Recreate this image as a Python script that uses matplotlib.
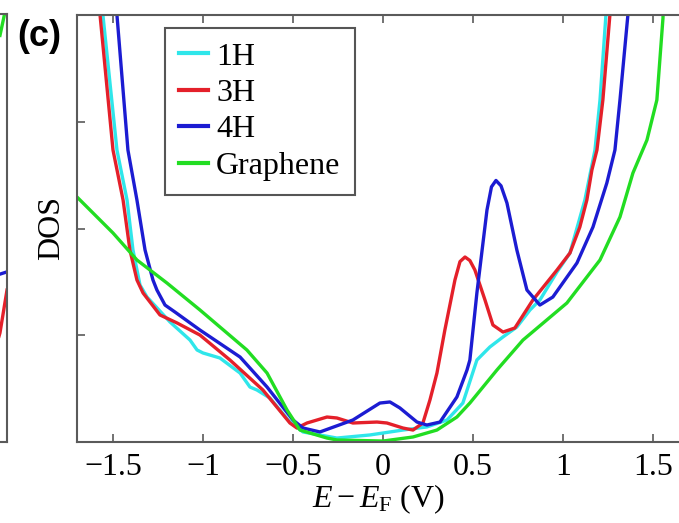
import matplotlib
matplotlib.use("Agg")
import matplotlib.pyplot as plt

plt.rcParams['font.family'] = ['Liberation Serif', 'DejaVu Serif']
plt.rcParams['mathtext.fontset'] = 'custom'
plt.rcParams['mathtext.rm'] = 'Liberation Serif'
plt.rcParams['mathtext.it'] = 'Liberation Serif:italic'

# ---------------- data (E - E_F in V, DOS arbitrary units) ----------------
x_1h = [-1.567, -1.556, -1.478, -1.422, -1.389, -1.350, -1.311, -1.183, -1.072, -1.033,
        -1.000, -0.906, -0.794, -0.739, -0.700, -0.628, -0.517, -0.444, -0.256, -0.072,
        0.111, 0.244, 0.356, 0.444, 0.522, 0.594, 0.667, 0.744, 0.817, 0.872,
        0.967, 1.039, 1.122, 1.178, 1.206, 1.239, 1.250]
y_1h = [4.23, 4.00, 2.735, 2.267, 1.799, 1.471, 1.358, 1.124, 0.955, 0.862,
        0.834, 0.787, 0.646, 0.515, 0.487, 0.412, 0.187, 0.094, 0.037, 0.066,
        0.112, 0.141, 0.206, 0.365, 0.768, 0.890, 0.984, 1.077, 1.237, 1.330,
        1.593, 1.770, 2.267, 2.735, 3.204, 4.00, 4.23]

x_3h = [-1.583, -1.572, -1.500, -1.444, -1.406, -1.367, -1.333, -1.239, -1.144, -1.017,
        -0.850, -0.667, -0.517, -0.478, -0.422, -0.311, -0.256, -0.167, -0.033, 0.022,
        0.111, 0.167, 0.222, 0.261, 0.300, 0.344, 0.400, 0.428, 0.456, 0.483,
        0.511, 0.567, 0.611, 0.667, 0.733, 0.833, 0.967, 1.039, 1.094, 1.133,
        1.161, 1.189, 1.222, 1.261, 1.272]
y_3h = [4.23, 4.00, 2.735, 2.267, 1.799, 1.518, 1.396, 1.190, 1.115, 1.002,
        0.768, 0.487, 0.178, 0.131, 0.178, 0.234, 0.225, 0.178, 0.187, 0.178,
        0.131, 0.112, 0.178, 0.393, 0.646, 1.049, 1.518, 1.690, 1.733, 1.700,
        1.611, 1.330, 1.096, 1.030, 1.068, 1.330, 1.611, 1.770, 2.014, 2.267,
        2.548, 2.735, 3.204, 4.00, 4.23]

x_4h = [-1.489, -1.478, -1.417, -1.367, -1.322, -1.278, -1.256, -1.211, -1.156, -1.017,
        -0.794, -0.644, -0.500, -0.444, -0.350, -0.167, -0.017, 0.039, 0.094, 0.189,
        0.244, 0.317, 0.411, 0.467, 0.483, 0.522, 0.578, 0.603, 0.628, 0.656,
        0.689, 0.744, 0.800, 0.872, 0.944, 1.078, 1.167, 1.244, 1.289, 1.317,
        1.361, 1.372]
y_4h = [4.23, 4.00, 2.735, 2.267, 1.799, 1.518, 1.424, 1.283, 1.218, 1.049,
        0.796, 0.515, 0.206, 0.131, 0.094, 0.206, 0.365, 0.375, 0.319, 0.187,
        0.159, 0.187, 0.422, 0.674, 0.768, 1.396, 2.173, 2.390, 2.450, 2.400,
        2.239, 1.799, 1.424, 1.283, 1.358, 1.677, 2.014, 2.426, 2.735, 3.204,
        4.00, 4.23]

x_gr = [-1.700, -1.500, -1.367, -1.200, -1.017, -0.756, -0.644, -0.533, -0.461, -0.311,
        -0.256, 0.000, 0.167, 0.300, 0.411, 0.483, 0.633, 0.778, 1.022, 1.206,
        1.317, 1.389, 1.467, 1.522, 1.556, 1.561]
y_gr = [2.295, 1.958, 1.705, 1.489, 1.237, 0.862, 0.646, 0.300, 0.112, 0.037,
        0.019, 0.009, 0.047, 0.112, 0.234, 0.365, 0.674, 0.955, 1.302, 1.705,
        2.108, 2.520, 2.829, 3.204, 3.972, 4.23]

labels = ['1H', '3H', '4H', 'Graphene']
colors = ['#2fe6ea', '#e4202a', '#1c1cd2', '#22dd22']
xticks = [-1.5, -1, -0.5, 0, 0.5, 1, 1.5]
xticklabels = ['\u22121.5', '\u22121', '\u22120.5', '0', '0.5', '1', '1.5']
yticks = [1, 2, 3]

# neighbouring panel fragment (cut off at the left edge)
frag_x_gr = [0.883, 0.967, 0.99]
frag_y_gr = [3.80, 4.02, 4.3]
frag_x_4h = [0.833, 1.0]
frag_y_4h = [1.56, 1.59]
frag_x_3h = [0.80, 0.883, 1.0]
frag_y_3h = [0.86, 1.02, 1.42]

W, H = 679, 523
fig = plt.figure(figsize=(W / 100, H / 100), dpi=100)

spine_col = '#5a5a5a'
lw = 2.4
fs = 23

# main axes
ax = fig.add_axes([77 / W, (H - 442) / H, 1 - 77 / W, 427 / H])
series = [(x_1h, y_1h), (x_3h, y_3h), (x_4h, y_4h), (x_gr, y_gr)]
for (xs, ys), lab, c in zip(series, labels, colors):
    ax.plot(xs, ys, color=c, lw=lw, label=lab, solid_joinstyle='round')
ax.set_xlim(-1.70, 1.645)
ax.set_ylim(0, 4)
ax.set_xticks(xticks)
ax.set_xticklabels(xticklabels)
ax.set_yticks(yticks)
ax.set_yticklabels([])
ax.tick_params(direction='in', length=6, width=1.2, color=spine_col,
               labelsize=fs, pad=8, top=True, right=False)
for s in ['left', 'bottom', 'top']:
    ax.spines[s].set_color(spine_col)
    ax.spines[s].set_linewidth(1.5)
ax.spines['right'].set_visible(False)
ax.set_xlabel(r'$E - E_{\rm F}$ (V)', fontsize=fs, labelpad=0)
ax.set_ylabel('DOS', fontsize=fs, labelpad=0)

leg = ax.legend(loc='upper left', bbox_to_anchor=(0.146, 0.970), borderaxespad=0,
                fontsize=fs, handlelength=0.9, handletextpad=0.25, labelspacing=0.22,
                borderpad=0.45, fancybox=False, framealpha=1)
leg.get_frame().set_edgecolor('#555555')
leg.get_frame().set_linewidth(1.5)
for l in leg.get_lines():
    l.set_linewidth(3.0)

# fragment of the neighbouring panel
fax = fig.add_axes([(7 - 60) / W, (H - 442) / H, 60 / W, 428 / H])
fax.plot(frag_x_gr, frag_y_gr, color=colors[3], lw=lw)
fax.plot(frag_x_4h, frag_y_4h, color=colors[2], lw=lw)
fax.plot(frag_x_3h, frag_y_3h, color=colors[1], lw=lw)
fax.set_xlim(0, 1)
fax.set_ylim(0, 4)
fax.set_xticks([])
fax.set_yticks([])
for s in ['right', 'bottom', 'top']:
    fax.spines[s].set_color(spine_col)
    fax.spines[s].set_linewidth(1.5)
fax.spines['left'].set_visible(False)

fig.text(17 / W, 1 - 19 / H, '(c)', fontsize=26, fontweight='bold',
         family=['Liberation Sans', 'DejaVu Sans'], ha='left', va='top')

fig.savefig('out.png', dpi=100)
